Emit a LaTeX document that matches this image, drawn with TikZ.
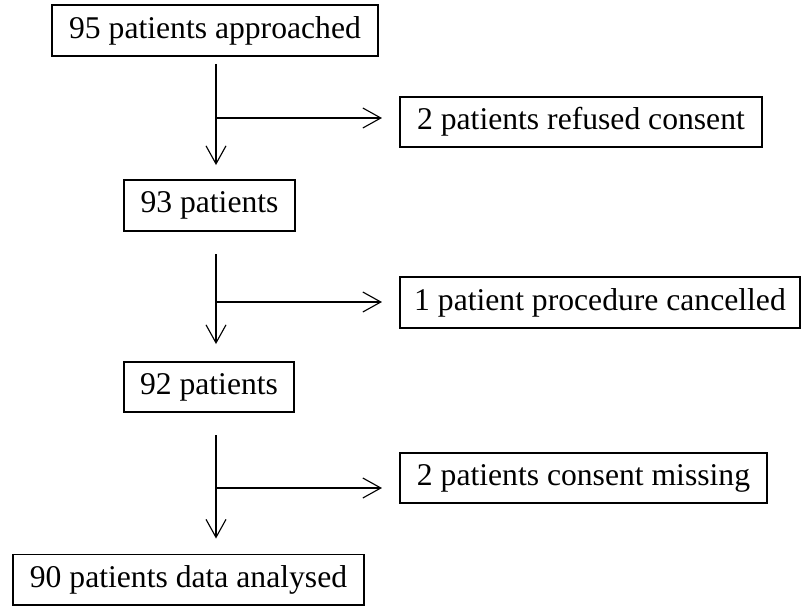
\documentclass[tikz,border=0pt]{standalone}
\usepackage{fontspec}
\setmainfont{Liberation Serif}
\usetikzlibrary{arrows.meta}

\begin{document}
\begin{tikzpicture}[x = 0.025cm, y = -0.025cm,
                    box/.style = {draw, line width = 1.4pt, inner sep = 2pt,
                                  font = \fontsize{22.5}{27}\selectfont},
                    arr/.style = {line width = 0.8pt,
                                  -{Straight Barb[length = 0.45cm, width = 0.5cm, line width = 0.8pt]}}]
      \useasboundingbox (0, 0) rectangle (801, 605);
      % main column
      \node [box, minimum width = 8.15cm, minimum height = 1.275cm] (app) at (215, 30.5){95 patients approached};
      \node [box, minimum width = 4.275cm, minimum height = 1.275cm] (n93) at (209.5, 205.5){93 patients};
      \node [box, minimum width = 4.25cm, minimum height = 1.25cm] (n92) at (209, 387){92 patients};
      \node [box, minimum width = 8.775cm, minimum height = 1.25cm] (n90) at (188.5, 579.5){90 patients data analysed};
      % excluded
      \node [box, minimum width = 9.05cm, minimum height = 1.25cm] (refused) at (581, 122){2 patients refused consent};
      \node [box, minimum width = 10cm, minimum height = 1.275cm] (cancel) at (600, 302.5){1 patient procedure cancelled};
      \node [box, minimum width = 9.175cm, minimum height = 1.25cm] (missing) at (583.5, 478){2 patients consent missing};
      \coordinate (j1) at (216, 118);
      \coordinate (j2) at (216, 302);
      \coordinate (j3) at (216, 488);
      \draw [arr, shorten <= 0.175cm, shorten >= 0.35cm] (j1 |- app.south) -- (j1 |- n93.north);
      \draw [arr, shorten <= 0.55cm, shorten >= 0.425cm] (j2 |- n93.south) -- (j2 |- n92.north);
      \draw [arr, shorten <= 0.55cm, shorten >= 0.375cm] (j3 |- n92.south) -- (j3 |- n90.north);
      \draw [arr, shorten >= 0.425cm] (j1) -- (j1 -| refused.west);
      \draw [arr, shorten >= 0.425cm] (j2) -- (j2 -| cancel.west);
      \draw [arr, shorten >= 0.425cm] (j3) -- (j3 -| missing.west);
    \end{tikzpicture}
\end{document}
